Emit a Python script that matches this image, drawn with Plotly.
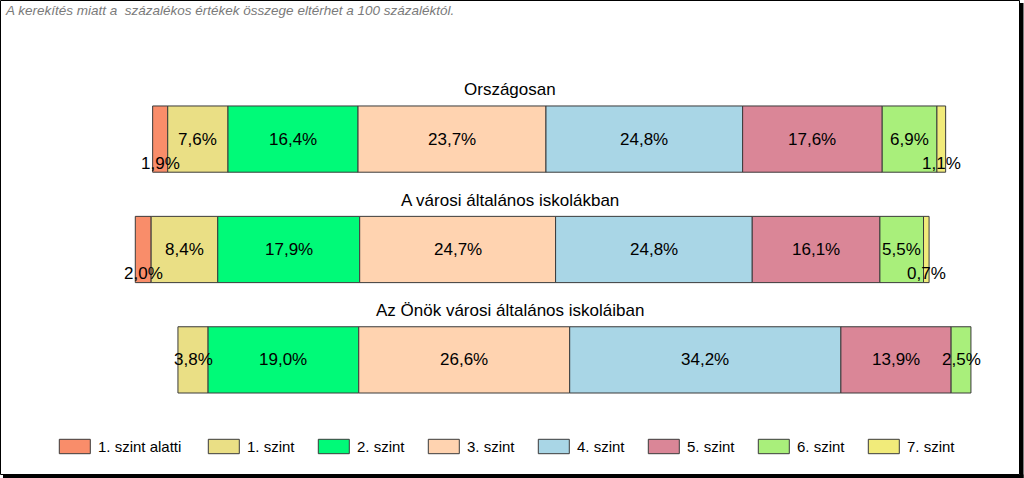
import plotly.graph_objects as go

# ---- data ----
groups = ["Országosan", "A városi általános iskolákban", "Az Önök városi általános iskoláiban"]
levels = ["1. szint alatti", "1. szint", "2. szint", "3. szint", "4. szint", "5. szint", "6. szint", "7. szint"]
orszagos = [1.9, 7.6, 16.4, 23.7, 24.8, 17.6, 6.9, 1.1]
varosi = [2.0, 8.4, 17.9, 24.7, 24.8, 16.1, 5.5, 0.7]
onok = [0.0, 3.8, 19.0, 26.6, 34.2, 13.9, 2.5, 0.0]
start_offsets = [2.19, 0.0, 5.38]
colors = ["#F98D6A", "#EADF85", "#00FA78", "#FFD3B0", "#A9D6E6", "#DA8697", "#A9EF7B", "#F1EB7A"]
note = "A kerekítés miatt a \u00a0százalékos értékek összege eltérhet a 100 százaléktól."

W, H = 1024, 478
FONT = "Arial, Liberation Sans, sans-serif"
series = [orszagos, varosi, onok]

fig = go.Figure()
annotations = []

# bases
bases = []
for gi, vals in enumerate(series):
    acc = start_offsets[gi]
    row = []
    for v in vals:
        row.append(acc)
        acc += v
    bases.append(row)

for li, name in enumerate(levels):
    xs, ys, bs = [], [], []
    for gi, vals in enumerate(series):
        v = vals[li]
        if v > 0:
            xs.append(v)
            ys.append(gi)
            bs.append(bases[gi][li])
    fig.add_trace(go.Bar(
        x=xs, y=ys, base=bs, orientation="h", width=0.6, name=name,
        marker=dict(color=colors[li], line=dict(color="#3a3a3a", width=1)),
        showlegend=False, hoverinfo="skip"))
    for gi, vals in enumerate(series):
        v = vals[li]
        if v > 0:
            annotations.append(dict(
                x=bases[gi][li] + v / 2, y=gi, xref="x", yref="y",
                text=f"{v:.1f}".replace(".", ",") + "%", showarrow=False,
                font=dict(family=FONT, size=17, color="#000"),
                xanchor="center", yanchor="middle",
                yshift=-24 if v < 2.25 else 0))

# group titles
for gi, g in enumerate(groups):
    annotations.append(dict(
        x=510 / W, y=gi - 0.445, xref="paper", yref="y", text=g, showarrow=False,
        font=dict(family=FONT, size=17, color="#000"), xanchor="center", yanchor="middle"))

# note
annotations.append(dict(
    x=3 / W, y=1 - 1 / H, xref="paper", yref="paper", text=note, showarrow=False,
    font=dict(family=FONT, size=13.5, color="#7a7a7a", style="italic"),
    xanchor="left", yanchor="top"))

# manual legend
shapes = []
leg_x = 59.3
for li, name in enumerate(levels):
    x0 = leg_x
    shapes.append(dict(type="rect", xref="paper", yref="paper",
                       x0=x0 / W, x1=(x0 + 31) / W, y0=1 - 453.7 / H, y1=1 - 439.3 / H,
                       fillcolor=colors[li], line=dict(color="#3a3a3a", width=1)))
    annotations.append(dict(
        x=(x0 + 37) / W, y=1 - 446.5 / H, xref="paper", yref="paper", text=name,
        showarrow=False, font=dict(family=FONT, size=15, color="#000"),
        xanchor="left", yanchor="middle"))
    leg_x += 149 if li == 0 else 110

# frame with shadow
shapes.append(dict(type="rect", xref="paper", yref="paper",
                   x0=0.5 / W, x1=1019.5 / W, y0=1 - 474.5 / H, y1=1 - 0.5 / H,
                   line=dict(color="#000", width=1), fillcolor="rgba(0,0,0,0)"))
shapes.append(dict(type="rect", xref="paper", yref="paper",
                   x0=1020 / W, x1=1023.5 / W, y0=0, y1=1 - 3 / H,
                   line=dict(width=0), fillcolor="#000"))
shapes.append(dict(type="rect", xref="paper", yref="paper",
                   x0=3 / W, x1=1023.5 / W, y0=0, y1=1 - 474.5 / H,
                   line=dict(width=0), fillcolor="#000"))

fig.update_layout(
    width=W, height=H, margin=dict(l=0, r=0, t=0, b=0),
    paper_bgcolor="white", plot_bgcolor="white", barmode="overlay",
    xaxis=dict(range=[-17.06, 112.07], visible=False, fixedrange=True),
    yaxis=dict(range=[3.07, -1.26], visible=False, fixedrange=True),
    annotations=annotations, shapes=shapes, showlegend=False)

fig.write_html("out.html")
